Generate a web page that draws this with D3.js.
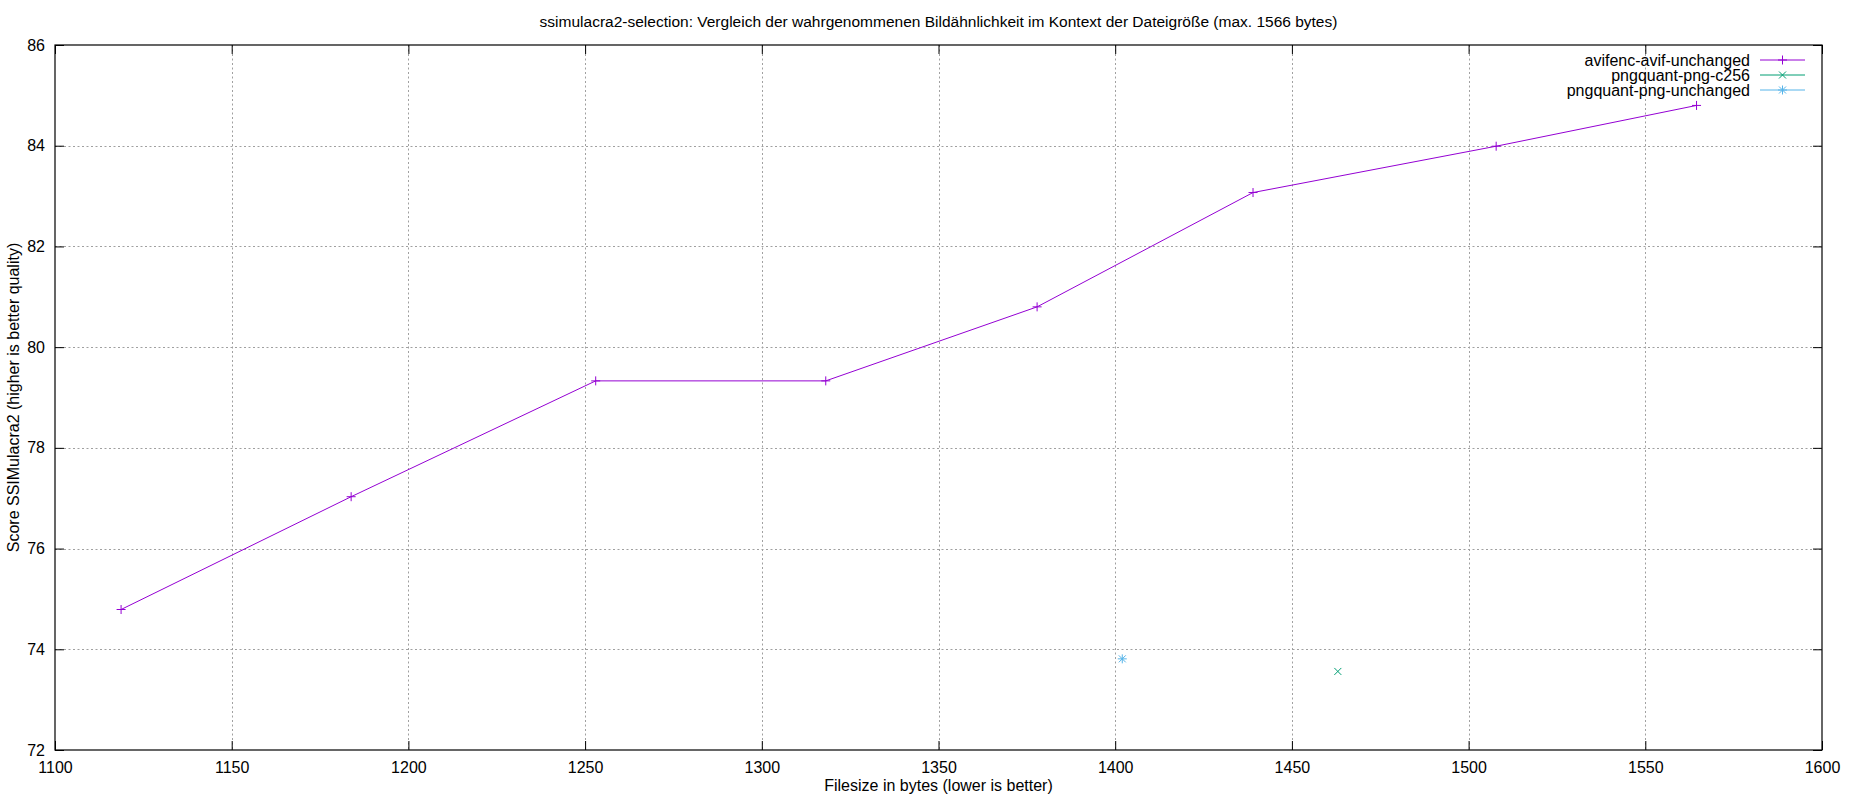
<!DOCTYPE html>
<html>
<head>
<meta charset="utf-8">
<script src="https://cdn.jsdelivr.net/npm/d3@7"></script>
<style>
  body { margin: 0; background: #fff; }
  svg { display: block; font-family: "Liberation Sans", Arial, sans-serif; }
</style>
</head>
<body>
<svg id="canvas"></svg>
<script>
/***********************************************************************/
// Data

var title = 'ssimulacra2-selection: Vergleich der wahrgenommenen Bildähnlichkeit im Kontext der Dateigröße (max. 1566 bytes)';
var xLabel = 'Filesize in bytes (lower is better)';
var yLabel = 'Score SSIMulacra2 (higher is better quality)';

var xTicks = [1100, 1150, 1200, 1250, 1300, 1350, 1400, 1450, 1500, 1550, 1600];
var yTicks = [72, 74, 76, 78, 80, 82, 84, 86];

var seriesNames = ['avifenc-avif-unchanged', 'pngquant-png-c256', 'pngquant-png-unchanged'];

var avifSize  = [1118.7, 1183.8, 1253.0, 1318.1, 1377.9, 1439.0, 1507.8, 1564.5];
var avifScore = [74.79, 77.03, 79.33, 79.33, 80.80, 83.07, 83.99, 84.80];

var c256Size  = [1463.0];
var c256Score = [73.56];

var pngSize  = [1402.0];
var pngScore = [73.81];

/***********************************************************************/
// Layout

var width = 1850, height = 800;
var margin = { top: 45, right: 28, bottom: 50, left: 55 };
var colors = ['#9400d3', '#009e73', '#56b4e9'];
var markers = ['plus', 'cross', 'star'];
var fontSize = 16;

var svg = d3.select('#canvas').attr('width', width).attr('height', height);

var xScale = d3.scaleLinear().domain([1100, 1600]).range([margin.left, width - margin.right]);
var yScale = d3.scaleLinear().domain([72, 86]).range([height - margin.bottom, margin.top]);

var plotW = xScale.range()[1] - xScale.range()[0];
var plotH = yScale.range()[0] - yScale.range()[1];

/***********************************************************************/
// Grid

var grid = svg.append('g').attr('stroke', '#a0a0a0').attr('stroke-width', 1).attr('stroke-dasharray', '2,2.5');

grid.selectAll('.gx').data(xTicks.slice(1, -1)).enter().append('line')
  .attr('x1', d => Math.round(xScale(d)) + 0.5).attr('x2', d => Math.round(xScale(d)) + 0.5)
  .attr('y1', yScale.range()[1]).attr('y2', yScale.range()[0]);

grid.selectAll('.gy').data(yTicks.slice(1, -1)).enter().append('line')
  .attr('y1', d => Math.round(yScale(d)) + 0.5).attr('y2', d => Math.round(yScale(d)) + 0.5)
  .attr('x1', xScale.range()[0]).attr('x2', xScale.range()[1]);

/***********************************************************************/
// Axes (ticks inward, mirrored)

var tickLen = 9;

var xBottom = svg.append('g').attr('transform', 'translate(0,' + yScale.range()[0] + ')')
  .call(d3.axisBottom(xScale).tickValues(xTicks).tickFormat(d3.format('d')).tickSizeInner(-tickLen).tickSizeOuter(0).tickPadding(12));
var xTop = svg.append('g').attr('transform', 'translate(0,' + yScale.range()[1] + ')')
  .call(d3.axisTop(xScale).tickValues(xTicks).tickSizeInner(-tickLen).tickSizeOuter(0).tickFormat(''));
var yLeft = svg.append('g').attr('transform', 'translate(' + xScale.range()[0] + ',0)')
  .call(d3.axisLeft(yScale).tickValues(yTicks).tickFormat(d3.format('d')).tickSizeInner(-tickLen).tickSizeOuter(0).tickPadding(10));
var yRight = svg.append('g').attr('transform', 'translate(' + xScale.range()[1] + ',0)')
  .call(d3.axisRight(yScale).tickValues(yTicks).tickSizeInner(-tickLen).tickSizeOuter(0).tickFormat(''));

[xBottom, xTop, yLeft, yRight].forEach(a => {
  a.select('.domain').remove();
  a.selectAll('line').attr('stroke', '#000');
  a.selectAll('text').attr('font-size', fontSize).attr('font-family', '"Liberation Sans", Arial, sans-serif').attr('fill', '#000');
});

svg.append('rect')
  .attr('x', xScale.range()[0]).attr('y', yScale.range()[1])
  .attr('width', plotW).attr('height', plotH)
  .attr('fill', 'none').attr('stroke', '#000').attr('stroke-width', 1.2);

/***********************************************************************/
// Labels

svg.append('text').attr('x', xScale.range()[0] + plotW / 2).attr('y', 27)
  .attr('text-anchor', 'middle').attr('font-size', 15.5).text(title);

svg.append('text').attr('x', xScale.range()[0] + plotW / 2).attr('y', 791)
  .attr('text-anchor', 'middle').attr('font-size', fontSize).text(xLabel);

svg.append('text')
  .attr('transform', 'translate(19,' + (yScale.range()[1] + plotH / 2) + ') rotate(-90)')
  .attr('text-anchor', 'middle').attr('font-size', fontSize).text(yLabel);

/***********************************************************************/
// Markers

function drawMarker(g, type, x, y, color){
  var s = 4.5;
  if(type === 'plus' || type === 'star'){
    g.append('line').attr('x1', x - s).attr('x2', x + s).attr('y1', y).attr('y2', y).attr('stroke', color);
    g.append('line').attr('x1', x).attr('x2', x).attr('y1', y - s).attr('y2', y + s).attr('stroke', color);
  }
  if(type === 'cross' || type === 'star'){
    var c = 3.5;
    g.append('line').attr('x1', x - c).attr('x2', x + c).attr('y1', y - c).attr('y2', y + c).attr('stroke', color);
    g.append('line').attr('x1', x - c).attr('x2', x + c).attr('y1', y + c).attr('y2', y - c).attr('stroke', color);
  }
}

/***********************************************************************/
// Series

var series = [
  { x: avifSize, y: avifScore },
  { x: c256Size, y: c256Score },
  { x: pngSize,  y: pngScore }
];

var line = d3.line().x(d => xScale(d[0])).y(d => yScale(d[1]));

series.forEach((s, i) => {
  var pts = s.x.map((v, j) => [v, s.y[j]]);
  var g = svg.append('g');
  if(pts.length > 1){
    g.append('path').datum(pts).attr('d', line)
      .attr('fill', 'none').attr('stroke', colors[i]).attr('stroke-width', 1);
  }
  pts.forEach(p => drawMarker(g, markers[i], xScale(p[0]), yScale(p[1]), colors[i]));
});

/***********************************************************************/
// Legend

var legend = svg.append('g');
seriesNames.forEach((name, i) => {
  var ly = 60 + i * 15;
  legend.append('text').attr('x', 1750).attr('y', ly).attr('dy', '0.35em')
    .attr('text-anchor', 'end').attr('font-size', fontSize).text(name);
  legend.append('line').attr('x1', 1760).attr('x2', 1805).attr('y1', ly).attr('y2', ly)
    .attr('stroke', colors[i]).attr('stroke-width', 1);
  drawMarker(legend, markers[i], 1782.5, ly, colors[i]);
});
</script>
</body>
</html>
